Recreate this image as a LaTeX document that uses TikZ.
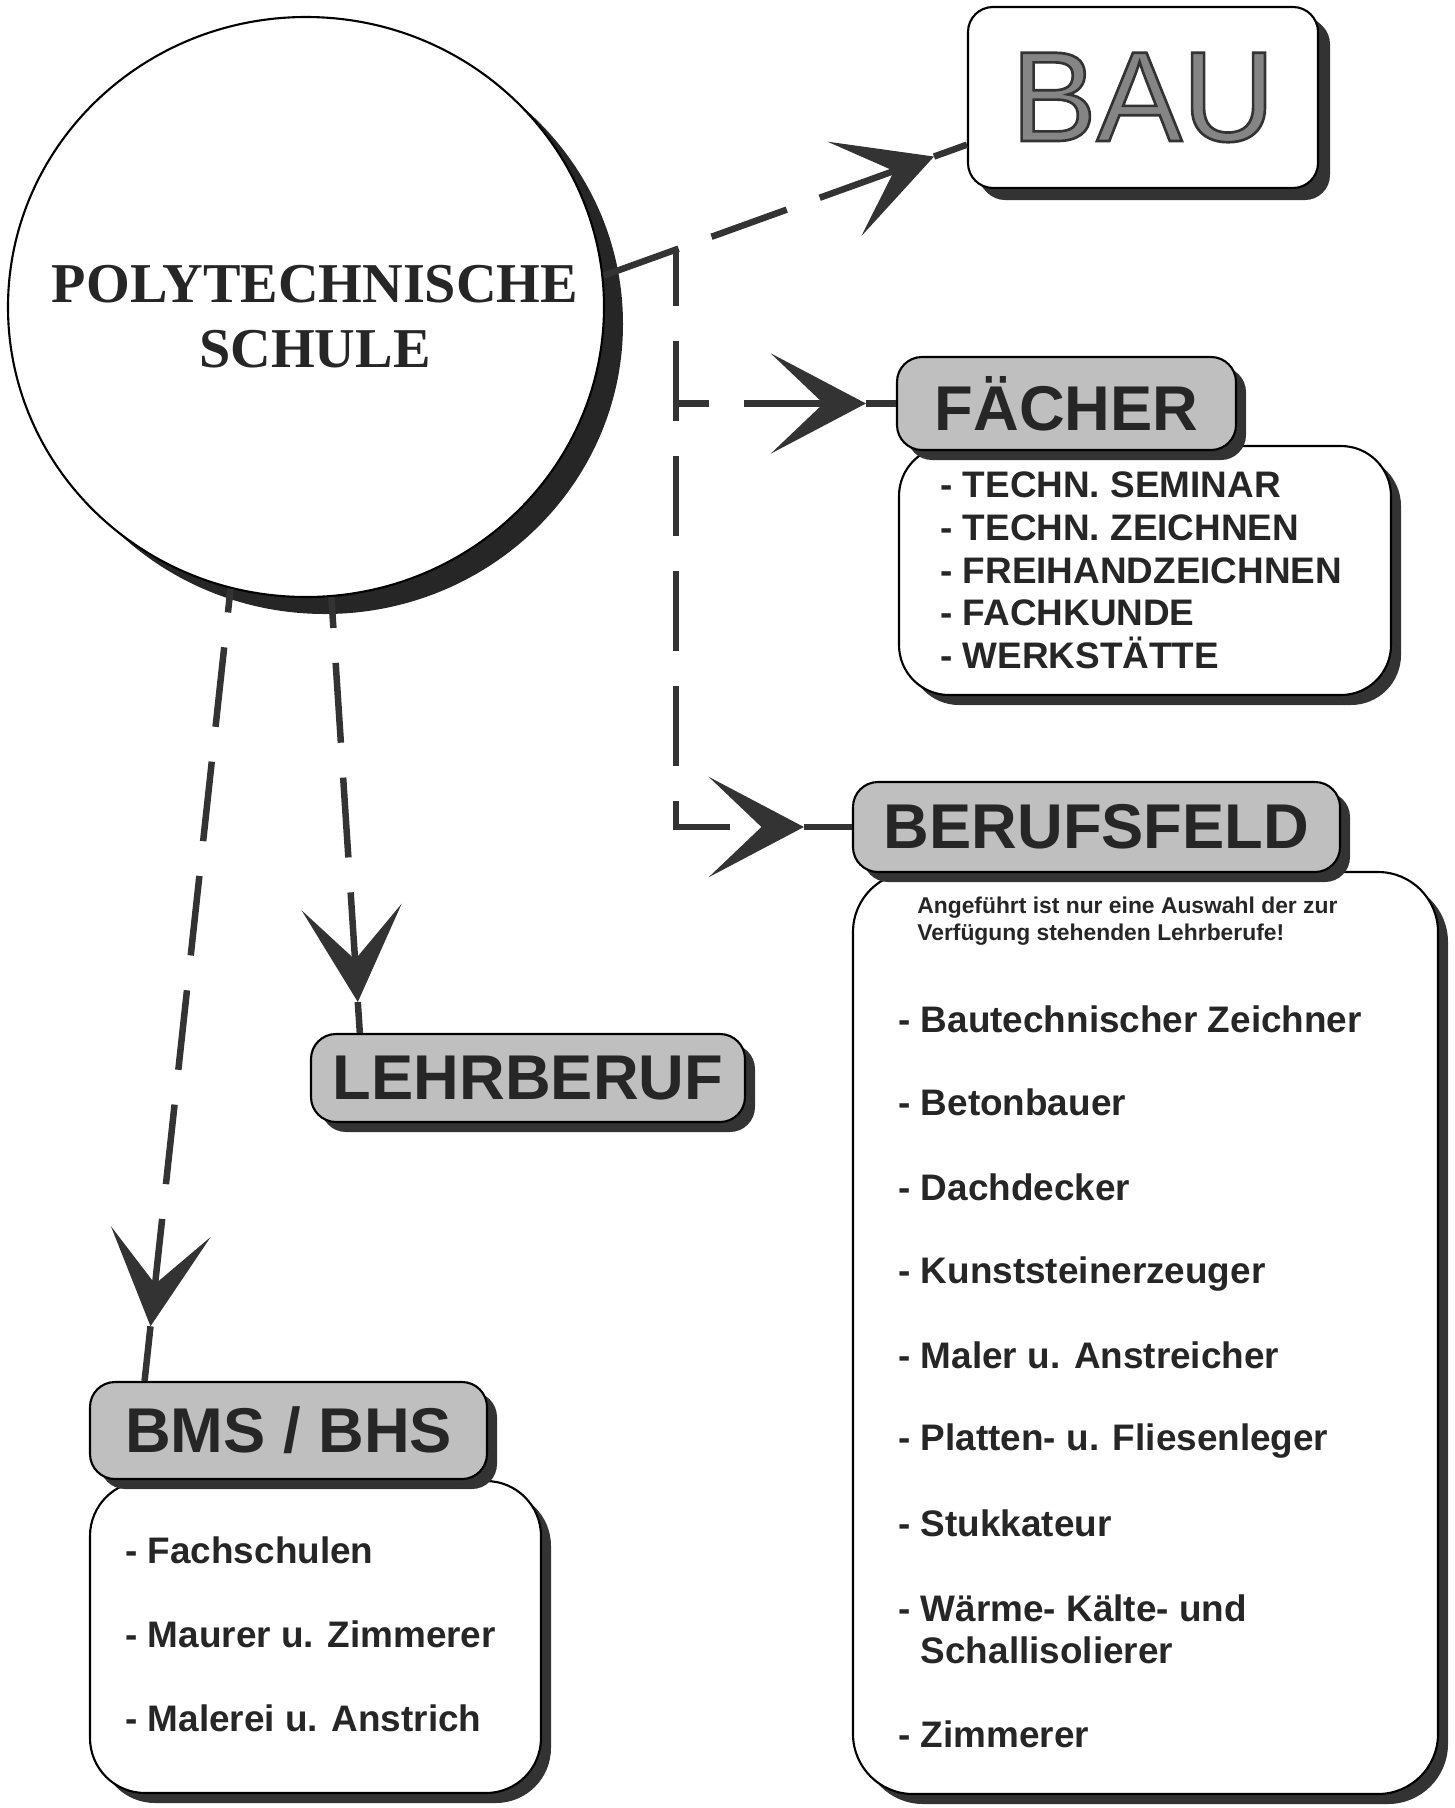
\documentclass[tikz,border=0pt]{standalone}
\usepackage{fontspec}
\setmainfont{Liberation Sans}
\newfontfamily\schulfont{Liberation Serif}
\usetikzlibrary{arrows.meta,calc,shadows,shapes.geometric}
% gray letters with a dark outline (text render mode 2)
\newcommand\umriss[1]{{\color{black!48}\special{pdf:literal 2 Tr 1.5 w 0.2 G}#1\special{pdf:literal 0 Tr}}}

\begin{document}
\begin{tikzpicture}
\tikzset{schatten/.style={drop shadow={shadow xshift=0.2cm, shadow yshift=-0.2cm, fill=black!80, opacity=1}},
  kopf/.style={draw, line width=1.2pt, fill=black!25, rounded corners=0.5cm, inner sep=0, schatten,
    text=black!85, font=\fontsize{36}{40}\selectfont\bfseries},
  inhalt/.style={draw, line width=1.2pt, fill=white, inner sep=0, schatten},
  eintrag/.style={anchor=base west, inner sep=0, text=black!85, font=\fontsize{21}{25}\selectfont\bfseries},
  hinweis/.style={anchor=base west, inner sep=0, text=black!85, font=\fontsize{13}{16}\selectfont\bfseries},
  schultitel/.style={anchor=base, inner sep=0, text=black!85, font=\schulfont\fontsize{32}{37}\selectfont\bfseries},
  strich/.style={line width=0.13cm, draw=black!80, dash pattern=on 1.6cm off 0.7cm},
  linie/.style={line width=0.13cm, draw=black!80},
  spitze/.style={-{Stealth[length=1.9cm, width=2cm, inset=1.05cm]}}}
\useasboundingbox (0,0) rectangle (29.1,-36.16);

% the school
\node[ellipse, draw, line width=1.2pt, fill=white, inner sep=0, minimum width=11.92cm, minimum height=11.6cm,
  drop shadow={shadow xshift=0.38cm, shadow yshift=-0.34cm, fill=black!85, opacity=1}] (schule) at (6.12,-6.14) {};
\node[schultitel] (schulA) at (6.3,-6.04) {POLYTECHNISCHE};
\node[schultitel] (schulB) at (6.3,-7.34) {SCHULE};

% BAU
\node[kopf, fill=white, minimum width=7cm, minimum height=3.62cm, font=\fontsize{73}{80}\selectfont,
  drop shadow={shadow xshift=0.24cm, shadow yshift=-0.24cm, fill=black!80, opacity=1}] (bau) at (22.86,-1.95) {\umriss{BAU}};

% Faecher
\node[inhalt, rounded corners=1cm, minimum width=9.84cm, minimum height=4.98cm] (fachliste) at (22.9,-11.41) {};
\node[kopf, minimum width=6.78cm, minimum height=1.86cm] (fach) at (21.33,-8.07) {FÄCHER};
\foreach \txt/\y [count=\i] in {TECHN. SEMINAR/-9.94, TECHN. ZEICHNEN/-10.8, FREIHANDZEICHNEN/-11.66,
  FACHKUNDE/-12.5, WERKSTÄTTE/-13.36}
  \node[eintrag] (fach\i) at (18.8,\y) {- \txt};

% Berufsfeld
\node[inhalt, rounded corners=1.2cm, minimum width=11.7cm, minimum height=18.44cm] (berufliste) at (22.91,-26.66) {};
\node[kopf, minimum width=9.74cm, minimum height=1.8cm] (beruf) at (21.93,-16.54) {BERUFSFELD};
\node[hinweis] (hinweisA) at (18.34,-18.26) {Angeführt ist nur eine Auswahl der zur};
\node[hinweis] (hinweisB) at (18.34,-18.8) {Verfügung stehenden Lehrberufe!};
\foreach \txt/\y [count=\i] in {Bautechnischer Zeichner/-20.64, Betonbauer/-22.3, Dachdecker/-24.0,
  Kunststeinerzeuger/-25.66, Maler u. Anstreicher/-27.36, Platten- u. Fliesenleger/-29.0,
  Stukkateur/-30.72, Wärme- Kälte- und/-32.42, Zimmerer/-34.94}
  \node[eintrag] (beruf\i) at (17.96,\y) {- \txt};
\node[eintrag] (beruf8b) at (18.41,-33.26) {Schallisolierer};

% Lehrberuf
\node[kopf, minimum width=8.68cm, minimum height=1.76cm] (lehr) at (10.56,-21.56) {LEHRBERUF};

% BMS / BHS
\node[inhalt, rounded corners=1.1cm, minimum width=9.02cm, minimum height=6.24cm] (bmsliste) at (6.31,-32.74) {};
\node[kopf, minimum width=7.94cm, minimum height=1.94cm] (bms) at (5.77,-28.61) {BMS / BHS};
\foreach \txt/\y [count=\i] in {Fachschulen/-31.26, Maurer u. Zimmerer/-32.94, Malerei u. Anstrich/-34.62}
  \node[eintrag] (bms\i) at (2.5,\y) {- \txt};

% connectors
\coordinate (tipBau) at ($(bau.195)!0.7cm!(schule.6)$);
\coordinate (knick) at ($(schule.6)!0.22!(tipBau)$);
\coordinate (tipFach) at ($(fach.west)+(-0.6,0)$);
\coordinate (tipBeruf) at ($(beruf.west)+(-0.96,0)$);
\coordinate (tipLehr) at ($(lehr.165)!0.62cm!(schule.275)$);
\coordinate (tipBms) at ($(bms.161)!1.1cm!(schule.255)$);

\draw[strich, spitze] (schule.6) -- (tipBau);
\draw[linie] (tipBau) -- (bau.195);
\draw[strich, spitze, dash phase=0.48cm] (knick) -- (knick |- tipBeruf) -- (tipBeruf);
\draw[linie] (tipBeruf) -- (beruf.west);
\draw[strich, spitze, dash phase=0.94cm] (knick |- tipFach) -- (tipFach);
\draw[linie] (tipFach) -- (fach.west);
\draw[strich, spitze, dash phase=0.98cm] (schule.275) -- (tipLehr);
\draw[linie] (tipLehr) -- (lehr.165);
\draw[strich, spitze, dash phase=1.12cm] (schule.255) -- (tipBms);
\draw[linie] (tipBms) -- (bms.161);
\end{tikzpicture}
\end{document}
